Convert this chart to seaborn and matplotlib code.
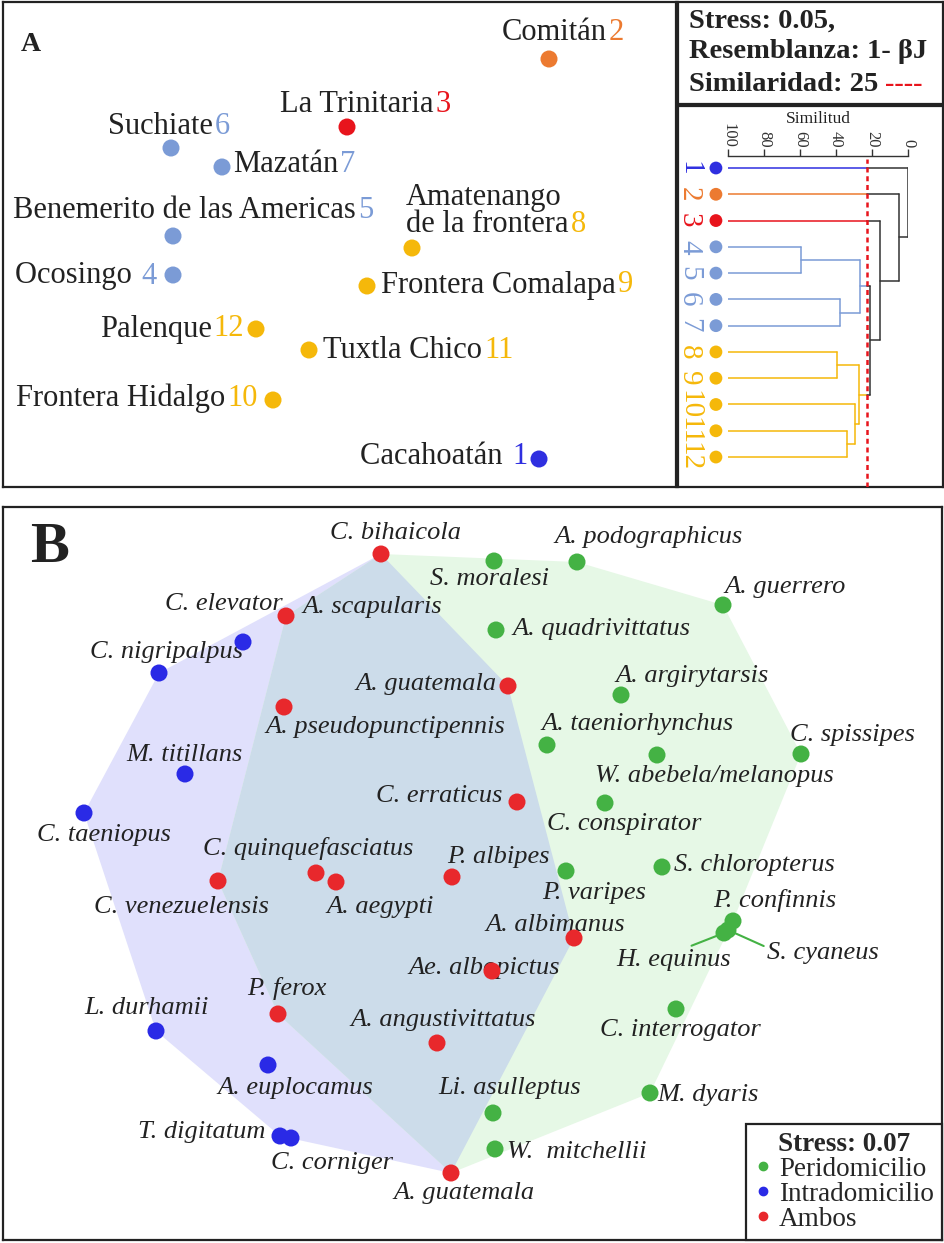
import numpy as np
import pandas as pd
import matplotlib
matplotlib.use('Agg')
import matplotlib.pyplot as plt
from matplotlib.lines import Line2D
import seaborn as sns

sns.set_style('white')
plt.rcParams['font.family'] = ['Liberation Serif', 'DejaVu Serif']

# ***** Panel A: NMDS de los sitios *****
site_names = ['Cacahoatán ', 'Comitán', 'La Trinitaria', 'Ocosingo ',
              'Benemerito de las Americas', 'Suchiate', 'Mazatán',
              'Amatenango\nde la frontera', 'Frontera Comalapa',
              'Frontera Hidalgo', 'Tuxtla Chico', 'Palenque']
site_num = list(range(1, 13))
site_x = [539, 549, 347, 173, 173, 171, 222, 412, 367, 273, 309, 256]
site_y = [459, 59, 127, 275, 236, 148, 167, 248, 286, 400, 350, 329]
site_group = ['g1', 'g2', 'g3', 'g4', 'g4', 'g4', 'g4', 'g5', 'g5', 'g5', 'g5', 'g5']

site_palette = {'g1': '#2f2fe0', 'g2': '#ec7a30', 'g3': '#e8141c',
                'g4': '#7b9bd6', 'g5': '#f5b80a'}

# dendrograma (similitud 1-betaJ), enlaces: (a, b, similitud)
merges = [(3, 4, 59.3), (5, 6, 38.0), (7, 8, 39.4), (10, 11, 33.7),
          (9, 15, 29.3), (14, 16, 27.2), (12, 13, 26.9), (18, 17, 20.9),
          (2, 19, 15.7), (1, 20, 5.0), (0, 21, 0.0)]
sim_ticks = [100, 80, 60, 40, 20, 0]
cut = 23

# ***** Panel B: NMDS de especies *****
sp_names = ['C. bihaicola', 'A. scapularis', 'A. guatemala', 'A. pseudopunctipennis',
            'C. erraticus', 'C. quinquefasciatus', 'A. aegypti', 'C. venezuelensis',
            'P. albipes', 'A. albimanus', 'Ae. albopictus', 'P. ferox',
            'A. angustivittatus', 'A. guatemala',
            'C. elevator', 'C. nigripalpus', 'M. titillans', 'C. taeniopus',
            'L. durhamii', 'A. euplocamus', 'T. digitatum', 'C. corniger',
            'S. moralesi', 'A. podographicus', 'A. guerrero', 'A. quadrivittatus',
            'A. argirytarsis', 'A. taeniorhynchus', 'W. abebela/melanopus', 'C. spissipes',
            'C. conspirator', 'S. chloropterus', 'P. varipes', 'P. confinnis',
            'H. equinus', 'S. cyaneus', 'C. interrogator', 'M. dyaris',
            'Li. asulleptus', 'W.  mitchellii']
sp_x = [381, 286, 508, 284, 517, 316, 336, 218, 452, 574, 492, 278, 437, 451,
        243, 159, 185, 84, 156, 268, 280, 291,
        494, 577, 723, 496, 621, 547, 657, 801, 605, 662, 566, 733, 724, 728,
        676, 650, 493, 495]
sp_y = [554, 616, 686, 707, 802, 873, 882, 881, 877, 938, 971, 1014, 1043, 1173,
        642, 673, 774, 813, 1031, 1065, 1136, 1138,
        561, 562, 605, 630, 695, 745, 755, 754, 803, 867, 871, 921, 933, 930,
        1009, 1093, 1113, 1149]
sp_group = ['Ambos'] * 14 + ['Intradomicilio'] * 8 + ['Peridomicilio'] * 18

sp_palette = {'Peridomicilio': '#44b244', 'Intradomicilio': '#2a2ae6', 'Ambos': '#e8282c'}
hull_colors = {'Intradomicilio': '#e0e0fc', 'Peridomicilio': '#e6f8e6', 'Ambos': '#ccdcea'}

# desplazamientos de etiquetas (pixeles) y alineacion
site_lab = [(-179, -2), (-47, -27), (-67, -22), (-158, 1), (-160, -26), (-63, -22),
            (11, -2), (-6, -37), (14, -1), (-257, -2), (14, 0), (-156, 0)]
sp_lab = [(14, -21, 'center'), (16, -9, 'left'), (-11, -2, 'right'), (-19, 20, 'left'),
          (-15, -6, 'right'), (-8, -24, 'center'), (44, 25, 'center'), (-37, 26, 'center'),
          (46, -20, 'center'), (-19, -13, 'center'), (-8, -3, 'center'), (9, -25, 'center'),
          (6, -23, 'center'), (13, 20, 'center'),
          (-19, -38, 'center'), (7, -21, 'center'), (-1, -19, 'center'), (20, 22, 'center'),
          (-10, -23, 'center'), (27, 23, 'center'), (-15, -4, 'right'), (41, 25, 'center'),
          (-4, 18, 'center'), (72, -25, 'center'), (62, -18, 'center'), (16, -1, 'left'),
          (71, -19, 'center'), (90, -21, 'center'), (57, 21, 'center'), (51, -19, 'center'),
          (19, 21, 'center'), (12, -2, 'left'), (28, 22, 'center'), (42, -21, 'center'),
          (-50, 27, 'center'), (39, 23, 'left'), (4, 21, 'center'), (7, 2, 'left'),
          (17, -25, 'center'), (12, 3, 'left')]

W, H = 945, 1243
txt = '#222222'
fig = plt.figure(figsize=(W / 100, H / 100), dpi=100)


def frame_axes(x0, y0, x1, y1):
    ax = fig.add_axes([x0 / W, 1 - y1 / H, (x1 - x0) / W, (y1 - y0) / H])
    ax.set_xticks([])
    ax.set_yticks([])
    for sp in ax.spines.values():
        sp.set_linewidth(1.6)
        sp.set_color('#222222')
    return ax


# --- A ---
axA = frame_axes(3, 2, 676, 487)
dfA = pd.DataFrame({'x': site_x, 'y': site_y, 'grupo': site_group})
sns.scatterplot(data=dfA, x='x', y='y', hue='grupo', palette=site_palette, s=150,
                edgecolor='none', legend=False, ax=axA, zorder=3)
axA.set_xlim(3, 676)
axA.set_ylim(487, 2)
axA.set_xlabel('')
axA.set_ylabel('')
for i in range(12):
    dx, dy = site_lab[i]
    t = axA.annotate(site_names[i], xy=(site_x[i], site_y[i]), xytext=(dx, -dy),
                     textcoords='offset pixels', ha='left', va='center',
                     fontsize=22, color=txt, linespacing=0.95)
    axA.annotate(str(site_num[i]), xy=(1, 0), xycoords=t, xytext=(2, 0),
                 textcoords='offset pixels', ha='left', va='bottom',
                 fontsize=22, color=site_palette[site_group[i]])
axA.text(0.042, 0.913, 'A', transform=axA.transAxes, fontsize=20, fontweight='bold',
         ha='center', va='center', color=txt)

# --- caja de stress ---
axS = frame_axes(678, 2, 943, 104)
axS.text(0.042, 0.81, 'Stress: 0.05,', transform=axS.transAxes, fontsize=20.5,
         fontweight='bold', va='center', color=txt)
axS.text(0.042, 0.51, 'Resemblanza: 1- βJ', transform=axS.transAxes, fontsize=20.5,
         fontweight='bold', va='center', color=txt)
ts = axS.text(0.042, 0.19, 'Similaridad: 25', transform=axS.transAxes, fontsize=20.5,
              fontweight='bold', va='center', color=txt)
axS.annotate('----', xy=(1, 0), xycoords=ts, xytext=(7, 0), textcoords='offset pixels',
             va='bottom', fontsize=20.5, fontweight='bold', color='#e8141c')

# --- dendrograma ---
frame_axes(678, 106, 943, 487)
axD = fig.add_axes([728 / W, 1 - 487 / H, 180 / W, 331 / H])
axD.patch.set_alpha(0)
axD.set_xlim(100, 0)
axD.set_ylim(12.14, -0.457)
for s in ['left', 'right', 'bottom']:
    axD.spines[s].set_visible(False)
axD.spines['top'].set_color('#333333')
axD.spines['top'].set_linewidth(1)
axD.xaxis.tick_top()
axD.set_xticks(sim_ticks)
axD.set_xticklabels([str(v) for v in sim_ticks])
axD.tick_params(axis='x', direction='out', length=5, width=1, pad=1, labelsize=12,
                labelrotation=-90, colors='#333333')
axD.set_yticks([])
axD.xaxis.set_label_position('top')
axD.set_xlabel('Similitud', fontsize=12.5, labelpad=0, color=txt)

dark = '#333333'
leaf_color = [site_palette[g] for g in site_group]
nodes = {i: {'y': float(i), 'sim': 100.0, 'leaves': [i]} for i in range(12)}
for k, (a, b, s) in enumerate(merges):
    nodes[12 + k] = {'y': (nodes[a]['y'] + nodes[b]['y']) / 2, 'sim': s,
                     'leaves': nodes[a]['leaves'] + nodes[b]['leaves']}


def node_color(n):
    cols = {leaf_color[l] for l in n['leaves']}
    if len(cols) == 1 and n['sim'] >= cut:
        return cols.pop()
    return dark


for k, (a, b, s) in enumerate(merges):
    for c in (a, b):
        ch = nodes[c]
        col = node_color(ch)
        if col != dark and ch['sim'] > cut > s:
            axD.plot([ch['sim'], cut], [ch['y'], ch['y']], color=col, lw=1.1)
            axD.plot([cut, s], [ch['y'], ch['y']], color=dark, lw=1.1)
        else:
            axD.plot([ch['sim'], s], [ch['y'], ch['y']], color=col, lw=1.1)
    axD.plot([s, s], [nodes[a]['y'], nodes[b]['y']], color=node_color(nodes[12 + k]), lw=1.1)

axD.axvline(cut, ymin=0, ymax=0.99, color='#e8141c', lw=1.8, ls=(0, (2, 1.5)))
axD.scatter([-0.067] * 12, list(range(12)), transform=axD.get_yaxis_transform(),
            c=leaf_color, s=85, clip_on=False, zorder=3, edgecolors='none')
for i in range(12):
    axD.text(-0.217, i, str(site_num[i]), transform=axD.get_yaxis_transform(),
             rotation=-90, ha='center', va='center', fontsize=21,
             color=leaf_color[i], clip_on=False)

# --- B ---
axB = frame_axes(3, 507, 942, 1240)
dfB = pd.DataFrame({'x': sp_x, 'y': sp_y, 'grupo': sp_group})


def convex_hull(pts):
    pts = sorted(set(pts))

    def cross(o, a, b):
        return (a[0] - o[0]) * (b[1] - o[1]) - (a[1] - o[1]) * (b[0] - o[0])
    lower, upper = [], []
    for p in pts:
        while len(lower) >= 2 and cross(lower[-2], lower[-1], p) <= 0:
            lower.pop()
        lower.append(p)
    for p in reversed(pts):
        while len(upper) >= 2 and cross(upper[-2], upper[-1], p) <= 0:
            upper.pop()
        upper.append(p)
    return lower[:-1] + upper[:-1]


for grp, members in [('Intradomicilio', ['Intradomicilio', 'Ambos']),
                     ('Peridomicilio', ['Peridomicilio', 'Ambos']),
                     ('Ambos', ['Ambos'])]:
    sub = dfB[dfB['grupo'].isin(members)]
    hull = convex_hull(list(zip(sub['x'], sub['y'])))
    axB.fill([p[0] for p in hull], [p[1] for p in hull], color=hull_colors[grp],
             lw=0, zorder=0)

sns.scatterplot(data=dfB, x='x', y='y', hue='grupo', palette=sp_palette, s=150,
                edgecolor='none', legend=False, ax=axB, zorder=3)
axB.set_xlim(3, 942)
axB.set_ylim(1240, 507)
axB.set_xlabel('')
axB.set_ylabel('')

leaders = {'H. equinus': (0.58, 1.0), 'S. cyaneus': (0.0, 0.75)}
for i, name in enumerate(sp_names):
    dx, dy, ha = sp_lab[i]
    kw = {}
    if name in leaders:
        kw['arrowprops'] = dict(arrowstyle='-', color=sp_palette['Peridomicilio'], lw=1.5,
                                shrinkA=0, shrinkB=2, relpos=leaders[name])
    axB.annotate(name, xy=(sp_x[i], sp_y[i]), xytext=(dx, -dy), textcoords='offset pixels',
                 ha=ha, va='center', fontsize=19, style='italic', color=txt, zorder=2, **kw)

axB.text(0.05, 0.944, 'B', transform=axB.transAxes, fontsize=42, fontweight='bold',
         ha='center', va='center', color=txt)

leg_groups = ['Peridomicilio', 'Intradomicilio', 'Ambos']
handles = [Line2D([], [], marker='o', ls='', color=sp_palette[g], markersize=6)
           for g in leg_groups]
leg = axB.legend(handles, leg_groups, title='Stress: 0.07',
                 loc='lower right', bbox_to_anchor=(1, 0), borderaxespad=0, frameon=True,
                 fancybox=False, edgecolor='#222222', framealpha=1, fontsize=19.5,
                 title_fontproperties={'weight': 'bold', 'size': 19.5},
                 handlelength=0.6, handletextpad=0.3, labelspacing=0.0, borderpad=0.3)
leg.get_frame().set_linewidth(1.6)
leg.set_zorder(5)

fig.savefig('out.png', dpi=100)
